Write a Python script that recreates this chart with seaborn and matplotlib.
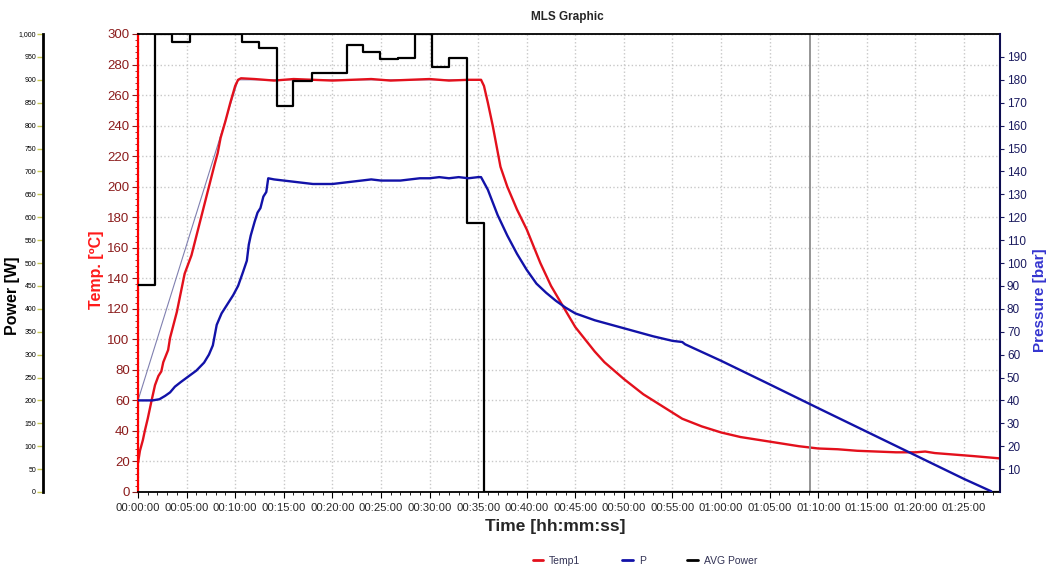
import matplotlib
matplotlib.use('Agg')
import matplotlib.pyplot as plt
import seaborn as sns
from matplotlib.ticker import MultipleLocator, FuncFormatter, FixedLocator
from matplotlib.lines import Line2D

# ---- data (time in minutes) ----
temp_time = [0, 0.2, 0.5, 0.7, 1.0, 1.4, 1.75, 2.1, 2.4, 2.6, 3.1, 3.3, 4.0, 4.8, 5.5, 6.5,
             7.5, 7.9, 8.2, 8.5, 9.0, 9.5, 10.0, 10.3, 10.6, 12, 14, 16, 18, 20, 22, 24, 26,
             28, 30, 32, 34, 35.3, 35.6, 36, 36.5, 37.3, 38, 39, 40, 41.4, 42.5, 43.7, 45,
             46, 47, 48, 50, 52, 54, 55, 56, 58, 60, 62, 64, 66, 68, 70, 72, 74, 76, 78, 80,
             81, 82, 84, 86, 88.7]
temp_vals = [19, 27, 34, 40, 48, 60, 70, 76, 79, 85, 93, 101, 118, 143, 155, 180,
             205, 215, 222, 232, 243, 255, 266, 270, 271, 270.5, 269.5, 270.5, 270, 269.5, 270, 270.5, 269.5,
             270, 270.5, 269.5, 270, 270, 266, 255, 240, 213, 200, 185, 172, 150, 135, 122, 108,
             100, 92, 85, 74, 64, 56, 52, 48, 43, 39, 36, 34, 32, 30, 28.5, 28, 27, 26.5, 26, 26,
             26.5, 25.5, 24.5, 23.5, 22]

profile_time = [0, 10.3, 35.3]
profile_vals = [60, 270, 270]

p_time = [0, 1.5, 2.2, 2.8, 3.3, 3.8, 4.4, 5.2, 6.0, 6.8, 7.3, 7.7, 8.1, 8.6, 9.2, 9.8, 10.3,
          10.8, 11.2, 11.4, 11.6, 12.0, 12.3, 12.6, 12.9, 13.2, 13.4, 14, 15, 16, 17, 18, 19,
          20, 21, 22, 23, 24, 25, 26, 27, 28, 29, 30, 31, 32, 33, 34, 35, 35.3, 36, 37, 38,
          39, 40, 41, 42, 43, 44, 45, 47, 50, 53, 55, 56, 56.3, 60, 65, 70, 75, 80, 85, 87.8]
p_vals = [40, 40, 40.5, 42, 43.5, 46, 48, 50.5, 53, 56.5, 60, 64, 73, 78, 82, 86, 90,
          96, 101, 108, 112, 118, 122, 124, 129, 131, 137, 136.5, 136, 135.5, 135, 134.5, 134.5,
          134.5, 135, 135.5, 136, 136.5, 136, 136, 136, 136.5, 137, 137, 137.5, 137, 137.5, 137, 137.5, 137.5,
          132, 121, 112, 104, 97, 91, 87, 83.5, 80.5, 78, 75, 71.5, 68, 66, 65.5, 64.5,
          57.3, 47, 36.6, 26.3, 16, 5.7, 0.3]

power_time = [0, 1.75, 3.5, 5.3, 10.7, 12.4, 14.3, 16.0, 17.9, 21.5, 23.2, 24.9, 26.8,
              28.5, 30.3, 32.0, 33.9, 35.6, 88.7]
power_vals = [452, 1000, 983, 1000, 983, 969, 843, 897, 915, 976, 961, 945, 948,
              1000, 927, 948, 587, 0, 0]

cursor_min = 69.2
x_max = 88.7

sns.set_style('white')
plt.rcParams['font.family'] = ['Liberation Sans', 'DejaVu Sans']

W, H = 1049, 568
fig = plt.figure(figsize=(W / 100, H / 100), dpi=100)
L, R, T, B = 138, 1000, 34, 492
ax = fig.add_axes([L / W, (H - B) / H, (R - L) / W, (B - T) / H])
ax_pw = ax.twinx()
ax_pr = ax.twinx()

red = '#e3101c'
blue = '#1212a8'

# temperature axis
sns.lineplot(x=profile_time, y=profile_vals, ax=ax, color='#8080b0', lw=0.8)
sns.lineplot(x=temp_time, y=temp_vals, ax=ax, color=red, lw=1.7)
ax.axvline(cursor_min, color='#8c8c8c', lw=1.3)
ax.set_xlim(0, x_max)
ax.set_ylim(0, 300)
ax.yaxis.set_major_locator(MultipleLocator(20))
ax.yaxis.set_minor_locator(MultipleLocator(4))
ax.xaxis.set_major_locator(MultipleLocator(5))
ax.xaxis.set_minor_locator(MultipleLocator(1))
ax.xaxis.set_major_formatter(FuncFormatter(lambda v, p: '%02d:%02d:00' % (int(round(v)) // 60, int(round(v)) % 60)))
ax.grid(True, which='major', color='#c8c8c8', linestyle=':', lw=1.0)
ax.set_xlabel('')
ax.set_ylabel('')
ax.tick_params(axis='y', which='major', direction='out', length=4, color='#8b1c1c',
               labelcolor='#8b1c1c', labelsize=9.5, pad=2, left=True)
ax.tick_params(axis='y', which='minor', direction='out', length=2, color='#8b1c1c', left=True)
ax.tick_params(axis='x', which='major', direction='out', length=4, color='black',
               labelsize=8.1, pad=4, bottom=True)
ax.tick_params(axis='x', which='minor', direction='out', length=2.5, color='black', bottom=True)
ax.spines['left'].set_color('#ff0000')
ax.spines['left'].set_linewidth(1.6)
ax.spines['bottom'].set_color('black')
ax.spines['bottom'].set_linewidth(1.3)
ax.spines['top'].set_color('black')
ax.spines['top'].set_linewidth(1.3)
ax.spines['right'].set_visible(False)

# power axis
sns.lineplot(x=power_time, y=power_vals, ax=ax_pw, color='black', lw=1.6, drawstyle='steps-post')
ax_pw.set_ylim(0, 1000)
ax_pw.set_xlim(0, x_max)
ax_pw.set_ylabel('')
ax_pw.yaxis.set_ticks_position('left')
ax_pw.spines['left'].set_position(('axes', (43 - L) / (R - L)))
ax_pw.spines['left'].set_visible(True)
ax_pw.spines['left'].set_color('black')
ax_pw.spines['left'].set_linewidth(2)
for s in ['right', 'top', 'bottom']:
    ax_pw.spines[s].set_visible(False)
ax_pw.yaxis.set_major_locator(MultipleLocator(50))
ax_pw.yaxis.set_major_formatter(FuncFormatter(lambda v, p: '{:,.0f}'.format(v)))
ax_pw.tick_params(axis='y', direction='out', length=4, width=1, color='#c8c850',
                  labelcolor='black', labelsize=5, pad=1, left=True, right=False,
                  labelleft=True, labelright=False)

# pressure axis
sns.lineplot(x=p_time, y=p_vals, ax=ax_pr, color=blue, lw=1.7)
ax_pr.set_ylim(0, 200)
ax_pr.set_xlim(0, x_max)
ax_pr.set_ylabel('')
ax_pr.yaxis.set_major_locator(FixedLocator(list(range(10, 200, 10))))
ax_pr.tick_params(axis='y', direction='out', length=3, color='#1a1a5e',
                  labelcolor='#1a1a5e', labelsize=8.5, pad=2, right=True)
for s in ['left', 'top', 'bottom']:
    ax_pr.spines[s].set_visible(False)
ax_pr.spines['right'].set_color('#0c0c50')
ax_pr.spines['right'].set_linewidth(1.5)

# texts
fig.text(567 / W, 1 - 17 / H, 'MLS Graphic', ha='center', va='center', fontsize=8.5, fontweight='bold')
fig.text(555 / W, 1 - 527 / H, 'Time [hh:mm:ss]', ha='center', va='center', fontsize=12.5, fontweight='bold')
fig.text(13 / W, 1 - 296 / H, 'Power [W]', ha='center', va='center', rotation=90,
         fontsize=11.5, fontweight='bold', color='black')
fig.text(97 / W, 1 - 270 / H, 'Temp. [ºC]', ha='center', va='center', rotation=90,
         fontsize=11.5, fontweight='bold', color='#ff1a1a')
fig.text(1040 / W, 1 - 300 / H, 'Pressure [bar]', ha='center', va='center', rotation=90,
         fontsize=11, fontweight='bold', color='#3535d0')

handles = [Line2D([], [], color=red, lw=2), Line2D([], [], color=blue, lw=2),
           Line2D([], [], color='black', lw=2)]
fig.legend(handles, ['Temp1', 'P', 'AVG Power'], loc='center', bbox_to_anchor=(645 / W, 1 - 561 / H),
           ncol=3, frameon=False, fontsize=7.5, handlelength=1.0, handletextpad=0.6,
           columnspacing=4.0, labelcolor='#333355')

fig.savefig('out.png', dpi=100)
